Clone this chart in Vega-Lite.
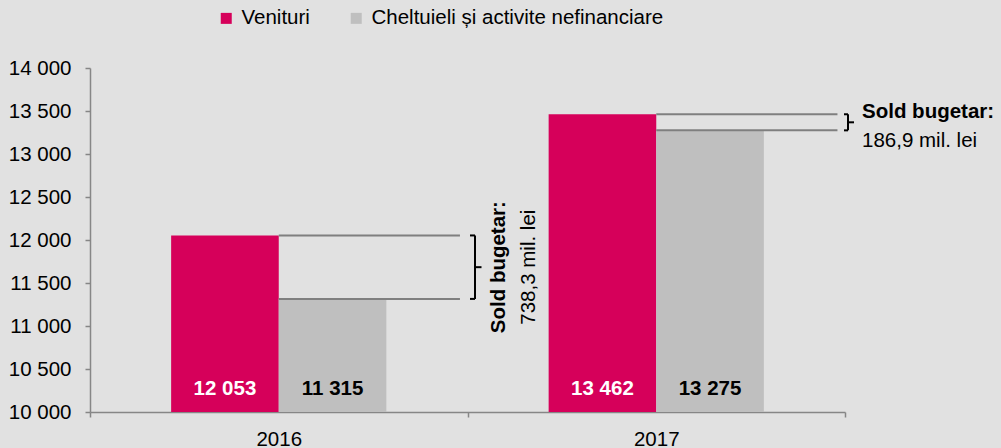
{
  "$schema": "https://vega.github.io/schema/vega-lite/v6.json",
  "width": 755,
  "height": 344,
  "autosize": {"type": "none"},
  "padding": {"left": 90, "top": 68, "right": 156, "bottom": 36},
  "background": "#e1e1e1",
  "config": {
    "view": {"stroke": null},
    "font": "Liberation Sans",
    "locale": {"number": {"decimal": ",", "thousands": " ", "grouping": [3], "currency": ["", " mil. lei"]}},
    "axis": {
      "domainColor": "#868686",
      "domainWidth": 1.5,
      "tickColor": "#868686",
      "tickWidth": 1.5,
      "tickSize": 5,
      "labelFont": "Liberation Sans",
      "labelFontSize": 20.5,
      "labelColor": "#000000",
      "grid": false,
      "title": null
    }
  },
  "datasets": {
    "bars": [
      {"an": "2016", "serie": "Venituri", "valoare": 12053},
      {"an": "2016", "serie": "Cheltuieli și activite nefinanciare", "valoare": 11315},
      {"an": "2017", "serie": "Venituri", "valoare": 13462},
      {"an": "2017", "serie": "Cheltuieli și activite nefinanciare", "valoare": 13275}
    ],
    "sold": [
      {"an": "2016", "sold": 738.3},
      {"an": "2017", "sold": 186.9}
    ]
  },
  "encoding": {
    "x": {
      "field": "an",
      "type": "nominal",
      "scale": {"paddingInner": 0, "paddingOuter": 0},
      "axis": {"labelAngle": 0, "tickBand": "extent", "labelPadding": 12}
    },
    "y": {
      "type": "quantitative",
      "scale": {"domain": [10000, 14000], "zero": false, "nice": false},
      "axis": {"values": [10000, 10500, 11000, 11500, 12000, 12500, 13000, 13500, 14000], "format": ",d", "labelPadding": 14}
    }
  },
  "layer": [
    {
      "data": {"name": "bars"},
      "mark": {"type": "bar"},
      "encoding": {
        "xOffset": {
          "field": "serie",
          "type": "nominal",
          "scale": {"domain": ["Venituri", "Cheltuieli și activite nefinanciare"], "paddingInner": 0, "paddingOuter": 0.754}
        },
        "y": {"field": "valoare", "type": "quantitative"},
        "y2": {"datum": 10000},
        "color": {
          "field": "serie",
          "type": "nominal",
          "scale": {"domain": ["Venituri", "Cheltuieli și activite nefinanciare"], "range": ["#d6005a", "#bfbfbf"]},
          "legend": {
            "orient": "none",
            "legendX": 126,
            "legendY": -60,
            "direction": "horizontal",
            "title": null,
            "symbolType": "square",
            "symbolSize": 121,
            "symbolStrokeWidth": 0,
            "labelFont": "Liberation Sans",
            "labelFontSize": 20.5,
            "labelColor": "#000000",
            "labelOffset": 5,
            "labelLimit": 500,
            "columnPadding": 36,
            "padding": 0
          }
        }
      }
    },
    {
      "data": {"name": "bars"},
      "mark": {"type": "text", "fontSize": 20.5, "fontWeight": "bold", "baseline": "middle", "yOffset": -23.5},
      "encoding": {
        "xOffset": {"field": "serie", "type": "nominal", "scale": {"domain": ["Venituri", "Cheltuieli și activite nefinanciare"], "paddingInner": 0, "paddingOuter": 0.754}},
        "y": {"datum": 10000, "type": "quantitative"},
        "text": {"field": "valoare", "type": "quantitative", "format": ",d"},
        "color": {"condition": {"test": "datum.serie === 'Venituri'", "value": "#ffffff"}, "value": "#000000"}
      }
    },
    {
      "data": {"name": "bars"},
      "mark": {"type": "rule", "color": "#7f7f7f", "strokeWidth": 2},
      "encoding": {
        "x": {"field": "an", "type": "nominal", "bandPosition": 0.5},
        "x2": {"field": "an", "bandPosition": 0.98},
        "y": {"field": "valoare", "type": "quantitative"}
      }
    },
    {
      "data": {"name": "bars"},
      "transform": [{"filter": "datum.an === '2016'"}],
      "layer": [
        {
          "mark": {"type": "rule", "color": "#000000", "strokeWidth": 2, "xOffset": 2.5, "x2Offset": 7.5},
          "encoding": {
            "x": {"field": "an", "type": "nominal", "bandPosition": 1},
            "x2": {"field": "an", "bandPosition": 1},
            "y": {"field": "valoare", "type": "quantitative"}
          }
        },
        {
          "mark": {"type": "rule", "color": "#000000", "strokeWidth": 2, "xOffset": 7.5},
          "encoding": {
            "x": {"field": "an", "type": "nominal", "bandPosition": 1},
            "y": {"aggregate": "min", "field": "valoare", "type": "quantitative"},
            "y2": {"aggregate": "max", "field": "valoare"}
          }
        },
        {
          "mark": {"type": "rule", "color": "#000000", "strokeWidth": 2, "xOffset": 7.5, "x2Offset": 14},
          "encoding": {
            "x": {"field": "an", "type": "nominal", "bandPosition": 1},
            "x2": {"field": "an", "bandPosition": 1},
            "y": {"aggregate": "mean", "field": "valoare", "type": "quantitative"}
          }
        },
        {
          "mark": {"type": "text", "fontSize": 20.5, "fontWeight": "bold", "angle": 270, "align": "center", "baseline": "alphabetic", "xOffset": 37.5, "color": "#000000"},
          "encoding": {
            "x": {"field": "an", "type": "nominal", "bandPosition": 1},
            "y": {"aggregate": "mean", "field": "valoare", "type": "quantitative"},
            "text": {"value": "Sold bugetar:"}
          }
        }
      ]
    },
    {
      "data": {"name": "bars"},
      "transform": [{"filter": "datum.an === '2017'"}],
      "layer": [
        {
          "mark": {"type": "rule", "color": "#000000", "strokeWidth": 2, "xOffset": -1, "x2Offset": 3},
          "encoding": {
            "x": {"field": "an", "type": "nominal", "bandPosition": 1},
            "x2": {"field": "an", "bandPosition": 1},
            "y": {"field": "valoare", "type": "quantitative"}
          }
        },
        {
          "mark": {"type": "rule", "color": "#000000", "strokeWidth": 2, "xOffset": 3},
          "encoding": {
            "x": {"field": "an", "type": "nominal", "bandPosition": 1},
            "y": {"aggregate": "min", "field": "valoare", "type": "quantitative"},
            "y2": {"aggregate": "max", "field": "valoare"}
          }
        },
        {
          "mark": {"type": "rule", "color": "#000000", "strokeWidth": 2, "xOffset": 3, "x2Offset": 9},
          "encoding": {
            "x": {"field": "an", "type": "nominal", "bandPosition": 1},
            "x2": {"field": "an", "bandPosition": 1},
            "y": {"aggregate": "mean", "field": "valoare", "type": "quantitative"}
          }
        },
        {
          "mark": {"type": "text", "fontSize": 20.5, "fontWeight": "bold", "align": "left", "baseline": "alphabetic", "xOffset": 17, "yOffset": -4.5, "color": "#000000"},
          "encoding": {
            "x": {"field": "an", "type": "nominal", "bandPosition": 1},
            "y": {"aggregate": "mean", "field": "valoare", "type": "quantitative"},
            "text": {"value": "Sold bugetar:"}
          }
        }
      ]
    },
    {
      "data": {"name": "bars"},
      "transform": [
        {"aggregate": [{"op": "mean", "field": "valoare", "as": "mijloc"}], "groupby": ["an"]},
        {"lookup": "an", "from": {"data": {"name": "sold"}, "key": "an", "fields": ["sold"]}}
      ],
      "layer": [
        {
          "transform": [{"filter": "datum.an === '2016'"}],
          "mark": {"type": "text", "fontSize": 20.5, "angle": 270, "align": "center", "baseline": "alphabetic", "xOffset": 67.5, "color": "#000000"},
          "encoding": {
            "x": {"field": "an", "type": "nominal", "bandPosition": 1},
            "y": {"field": "mijloc", "type": "quantitative"},
            "text": {"field": "sold", "type": "quantitative", "format": "$.1f"}
          }
        },
        {
          "transform": [{"filter": "datum.an === '2017'"}],
          "mark": {"type": "text", "fontSize": 20.5, "align": "left", "baseline": "alphabetic", "xOffset": 17, "yOffset": 24.5, "color": "#000000"},
          "encoding": {
            "x": {"field": "an", "type": "nominal", "bandPosition": 1},
            "y": {"field": "mijloc", "type": "quantitative"},
            "text": {"field": "sold", "type": "quantitative", "format": "$.1f"}
          }
        }
      ]
    }
  ]
}
